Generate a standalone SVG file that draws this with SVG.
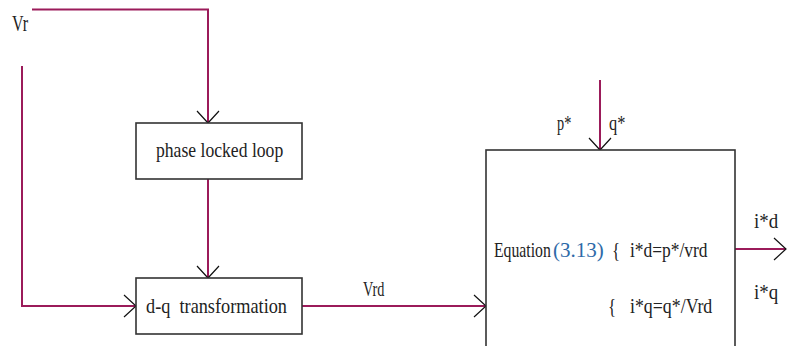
<svg xmlns="http://www.w3.org/2000/svg" width="788" height="346" viewBox="0 0 788 346">
<defs>
<marker id="ah" markerWidth="14" markerHeight="24" refX="13" refY="12" orient="auto" markerUnits="userSpaceOnUse">
<path d="M1,1 L13,12 L1,23" fill="none" stroke="#111" stroke-width="1.2"/>
</marker>
</defs>
<style>
.w{fill:none;stroke:#9b1b5a;stroke-width:2}
.b{fill:#fff;stroke:#333;stroke-width:1.6}
text{font-family:'Liberation Serif','Times New Roman',serif;font-size:21px;fill:#222}
.eqn{fill:#2e6aa8}
</style>
<rect width="788" height="346" fill="#fff"/>
<g id="connectors" font-family="Liberation Serif, serif">
<path class="w" d="M32,9.5 H208 V123" marker-end="url(#ah)"/>
<path class="w" d="M208,179 V278" marker-end="url(#ah)"/>
<path class="w" d="M22,66 V306 H136" marker-end="url(#ah)"/>
<path class="w" d="M302,306 H486" marker-end="url(#ah)"/>
<path class="w" d="M600,80 V150" marker-end="url(#ah)"/>
<path class="w" d="M735,249 H786" marker-end="url(#ah)"/>
<text transform="translate(12,31) scale(0.67,1)" style="font-size:24px">Vr</text>
<text transform="translate(363,296) scale(0.68,1)">Vrd</text>
<text transform="translate(557,130) scale(0.68,1)">p*</text>
<text transform="translate(609,130) scale(0.78,1)">q*</text>
<text transform="translate(754,228) scale(0.9,1)">i*d</text>
<text transform="translate(754,299) scale(0.9,1)">i*q</text>
</g>
<g id="pll" font-family="Liberation Serif, serif">
<rect class="b" x="136" y="123" width="166" height="56"/>
<text transform="translate(156,157) scale(0.84,1)">phase locked loop</text>
</g>
<g id="dq" font-family="Liberation Serif, serif">
<rect class="b" x="136" y="278" width="166" height="56"/>
<text transform="translate(146,313) scale(0.87,1)" xml:space="preserve">d-q  transformation</text>
</g>
<g id="equation" font-family="Liberation Serif, serif">
<rect class="b" x="486" y="150" width="249" height="210"/>
<text transform="translate(494,257) scale(0.75,1)">Equation</text>
<text class="eqn" transform="translate(553,257) scale(1.0,1)">(3.13)</text>
<text transform="translate(612,257) scale(0.8,1)">{</text>
<text transform="translate(630,257) scale(0.83,1)">i*d=p*/vrd</text>
<text transform="translate(608,313) scale(0.8,1)">{</text>
<text transform="translate(630,313) scale(0.85,1)">i*q=q*/Vrd</text>
</g>
</svg>
